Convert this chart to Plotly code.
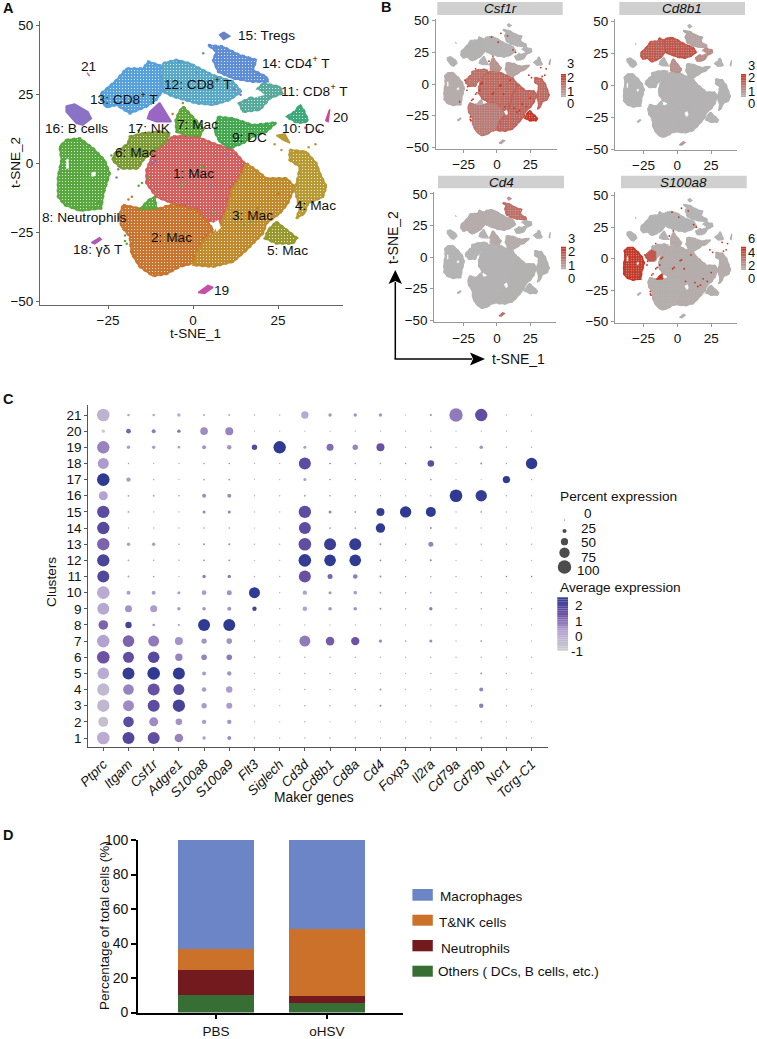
import plotly.graph_objects as go

FONT = "Liberation Sans"
W, H = 757, 1039

# ---------- Panel A / B : cluster outlines (t-SNE_1, t-SNE_2)
cluster_ids = list(range(1, 22))
outline_x = {
    1: [-5.9,0,5.9,11.8,15.2,13.7,10.8,9.8,7.8,3.9,1,-5.9,-10.8,-13.7,-13.7,-11.3,-8.8],
    2: [-20.6,-15.7,-9.8,-5.9,1,4.4,5.9,2.9,1,0,-3.9,-7.8,-11.8,-15.7,-18.1,-18.6,-21,-21.8],
    3: [15.7,18.6,21.6,27.5,29.9,27.9,25.5,21.6,20.6,15.7,11.8,5.9,0,1,2.9,6.4,8.3,10.3,11.3,13.9],
    4: [28.4,33.3,36.3,37.3,39.2,38.2,33.8,32.8,30.4,31.4,29.9,30.9,31.4,28.4],
    5: [24.5,27.5,30.6,29.4,24.5,21.1,22.1],
    6: [-23.7,-23,-19.1,-18.6,-14.7,-9.8,-6.9,-7.8,-11.3,-14.7,-16.2,-21.1],
    7: [-2.9,-1,1,3.1,2,-2,-4.9,-5.1,-4.1],
    8: [-37.3,-33.3,-29.4,-26,-24.5,-26.3,-27,-33.3,-37.7,-39.7,-39.7,-38.7,-39.2],
    9: [7.4,11.8,17.6,24.5,21.6,17.6,14.7,10.8,7.8,6.4,6.9],
    10: [31.4,32.5,33.8,32.8,30.4,27.5,29.9],
    11: [20.6,25.5,26.3,22.6,19.6,14.7,13.5,17.6,19.1],
    12: [-8.8,-4.9,-1,5.9,11.8,14.2,10.8,5.9,1,-5.9,-9.8,-8.8,-10],
    13: [-27,-22.5,-19.6,-14.7,-13.2,-9.8,-9.6,-8.8,-10.8,-13.7,-18.6,-22.5,-25.5,-27],
    14: [4.4,8.8,13.7,18.6,17.6,21.6,22.1,17.6,11.8,7.4,5.9,6.9],
    15: [9,10.8,9,7.8],
    16: [-37.3,-34.8,-30.9,-29.9,-32.4,-34.3,-37.3],
    17: [-9.8,-6.4,-10.8,-13.4,-12.7],
    18: [-29.9,-27.5,-27,-28.9],
    19: [1.5,4.4,5.9,3.4],
    20: [39,40.2,39.7],
    21: [-31.2,-30.4,-31],
}
outline_y = {
    1: [9.8,10.4,7.4,5,0.1,-4.7,-9.5,-15.6,-21.6,-20.4,-16.2,-14.4,-12,-7.1,-2.3,5,7.4],
    2: [-15,-16.2,-16.2,-14.6,-16.8,-21,-24,-27.7,-32.5,-36.1,-37.3,-40,-40.7,-37.3,-32.5,-26.4,-22.8,-19.2],
    3: [0.1,-2.3,-5.3,-5.3,-8.3,-14.4,-18,-21.6,-25.2,-31.3,-35.5,-37.3,-36.7,-32.5,-28.3,-24.6,-21.6,-15.6,-9.5,-4.7],
    4: [5,4.3,0.1,-3.5,-8.3,-12,-14.4,-18,-19.8,-16.2,-9.5,-4.7,-1.1,1.3],
    5: [-21,-24,-27,-28.9,-28.9,-27,-24],
    6: [1.3,3.7,7.4,9.8,11,11.6,11,8,5,1.3,-1.7,-1.7],
    7: [20.7,18.2,15.2,12.8,10,10.4,11.6,15.8,18.8],
    8: [8.6,9.2,5.6,1.3,-3.5,-10.7,-16.2,-17,-15,-12,-4.7,1.3,6.2],
    9: [17,16.4,14,14.9,11.6,9.8,7.4,5.6,8,11.6,15.2],
    10: [21.3,19.5,15.8,14.9,14.9,17,18.8],
    11: [29.1,27.9,25.5,23.7,19.5,18.8,21.9,24.3,27.3],
    12: [36.4,37.6,36.4,32.1,29.7,26.1,23.1,21.3,21.9,24.3,26.7,30.3,33.3],
    13: [25.5,30.3,34.5,34.5,37,35.7,31.5,26.7,23.1,20.7,18.2,21.3,20.4,23.1],
    14: [43,42.4,39.4,37.6,33.9,31.5,29.7,29.7,30.9,33.3,37.6,40.6],
    15: [47.7,46.2,45,46.7],
    16: [20.9,21.6,18.8,16.4,14,14.6,18.8],
    17: [22.1,15.2,15.2,16.4,18.8],
    18: [-28.6,-26.8,-27.4,-29.1],
    19: [-46.7,-44.1,-44.8,-47],
    20: [15.6,19.7,15.2],
    21: [33,31.8,32.7],
}
cluster_colors = {
    1:"#d1605e",2:"#c8752f",3:"#c08b2d",4:"#b79a33",5:"#97992f",6:"#7c9a35",7:"#5fa63a",
    8:"#59a83f",9:"#44a850",10:"#3fa87b",11:"#57aa9c",12:"#58a8c6",13:"#56a0dc",14:"#5f8ed6",
    15:"#6b82c8",16:"#8a72c5",17:"#9a66c4",18:"#b05ab0",19:"#c74fa8",20:"#d0459a",21:"#d85a7e",
}
# extra patch of neutrophil-coloured cells below cluster 6
patch8_x = [-13.2,-11.3,-10.6,-15.7]
patch8_y = [-13.2,-12,-16.2,-16.5]
# small satellite patch of cluster 4 colour
patch4_x = [24.5,27,28.5,26.5]
patch4_y = [10.2,10.8,7.5,8.5]
# part of cluster 6 that expresses S100a8
patch6_x = [-23.7,-23,-19,-16,-15.9,-17,-21]
patch6_y = [1.3,3.7,7,5.5,0,-2,-2]
# empty gaps inside the map
holes_x = [[-37.2,-36.7,-36.6,-37.2],[-29.8,-28.6,-28.8,-29.8],[6,7.4,8.1,7],[16,19,21,18],[5,9,10.5,7]]
holes_y = [[1.5,1.8,-1.6,-1.8],[-3.2,-3,-4.4,-4.6],[-21.5,-20.5,-23.2,-24.6],[25.5,26.8,25,24],[19.5,20,18.5,17.5]]
# scattered single cells
stray_x = [-2.5,2,3,-3.5,6,13,15,17,-18,-19,-22,-22.5,-13,-15,-16,-11,-12,19,22,25,34,36,-20,-19.5,
           -16,-20,-4,1,3,8,12,14,33,37,-28,-24,24,26,-3,-6,10,5]
stray_y = [-7,-1.5,-1,-8,-18,-19,-22,-21,-12,-13,-2,-5,-5,-7,-8,1,0,-16,-18,-11,6,7,-26,-29,
           12,-28,37,33,40,38,27,25,13,12,-14,3,7,5,22,18,3,-8]
stray_c = ["#59a83f"]*8 + ["#c8752f"]*2 + ["#8a72c5"]*2 + ["#59a83f"]*3 + ["#8a72c5"]*2 + ["#c8752f"]*3 + ["#b79a33"]*2 + \
          ["#59a83f"]*4 + ["#5f8ed6"]*4 + ["#9a66c4"]*2 + ["#d1605e"]*2 + ["#59a83f"]*2 + ["#b79a33"]*2 + ["#c8752f"]*2 + ["#8a72c5"]*2

labels_a = ["15: Tregs","14: CD4<sup>+</sup> T","21","12: CD8<sup>+</sup> T","11: CD8<sup>+</sup> T","13: CD8<sup>+</sup> T","20",
            "16: B cells","17: NK","7: Mac","10: DC","9: DC","6: Mac","1: Mac","3: Mac","4: Mac","8: Neutrophils",
            "2: Mac","18: γδ T","5: Mac","19"]
labels_x = [21.6,30.2,-30.6,1.5,35.8,-20.4,43.6,-34.3,-12.9,1.2,32.4,16.7,-16.9,0,17.5,36.1,-31.9,-6.2,-27.9,27.9,8.5]
labels_y = [46.6,37,35.1,29.1,26.7,23.7,16.8,12.8,12.8,14.3,12.8,9.5,4.1,-3.5,-18.8,-15.3,-19.4,-26.8,-31,-31.5,-45.8]

# ---------- Panel B : mean scaled expression of each gene in clusters 1..21
csf1r = [1.55,1.15,1.6,1.5,2.5,1.4,0.7,0.15,0.3,0.05,0.03,0.03,0.05,0.03,0,0.05,0,0,0.3,0.4,0.1]
cd8b1 = [0.03,0.03,0.03,0.02,0,0,0.7,0,0.05,0,0.8,1.9,1.8,0.3,0,0,0,0,0.6,0,0]
cd4 = [0.03,0.03,0.05,0.05,0.02,0,0.2,0,0.12,0,0.05,0.12,0.15,1.4,0.6,0,0,0,1.3,0,0]
s100a8 = [0.3,0.25,0.3,0.3,0.2,0.3,0.4,5.0,0.2,0,0.05,0.05,0.05,0,0,0,0,0,0.1,0.5,0]

# ---------- Panel C
genes = ["Ptprc","Itgam","Csf1r","Adgre1","S100a8","S100a9","Flt3","Siglech","Cd3d","Cd8b1","Cd8a","Cd4",
         "Foxp3","Il2ra","Cd79a","Cd79b","Ncr1","Tcrg-C1"]
clusters = list(range(1, 22))
pct_expr = [
 [93,88,88,61,19,24,3,2,4,4,3,3,3,3,3,5,3,3],
 [72,77,64,45,27,27,3,2,4,3,3,3,3,3,3,4,3,3],
 [91,80,88,91,35,40,3,2,5,4,3,8,3,3,3,27,3,3],
 [91,77,88,80,29,43,3,2,5,5,5,7,3,3,3,24,3,3],
 [85,88,93,88,24,27,3,3,4,3,3,3,3,3,3,6,3,3],
 [93,80,85,51,37,37,4,3,4,3,3,3,3,3,3,3,3,3],
 [93,85,80,56,35,37,4,3,80,61,59,19,5,16,3,6,3,3],
 [69,43,13,8,88,88,2,2,3,3,3,2,3,3,3,3,3,3],
 [88,48,48,19,21,24,27,4,29,21,21,7,4,19,3,4,3,3],
 [93,24,24,16,29,32,80,3,27,16,21,6,4,6,3,4,3,3],
 [88,7,6,3,19,19,3,3,88,32,29,7,3,4,3,3,4,4],
 [91,6,5,4,7,7,3,3,93,85,85,6,4,8,3,3,3,3],
 [91,19,19,5,8,9,3,3,93,88,88,7,4,32,3,4,4,4],
 [91,3,3,3,5,5,2,2,88,6,6,67,3,7,3,3,3,3],
 [91,7,3,3,16,16,3,3,91,16,7,56,83,72,3,6,4,3],
 [64,6,7,5,24,24,3,3,7,4,4,3,3,3,93,83,4,3],
 [93,27,5,3,6,7,2,2,16,4,4,3,3,5,2,2,51,3],
 [80,3,2,2,4,5,2,2,88,5,5,4,4,45,3,8,3,83],
 [91,19,19,11,24,27,35,91,16,48,35,56,3,8,3,21,3,3],
 [19,30,24,19,53,56,2,2,2,2,2,2,2,2,2,2,2,2],
 [93,13,13,19,8,8,5,5,51,19,19,19,2,10,99,91,3,3],
]
avg_expr = [
 [-0.1,1.6,1.3,0.5,0.2,0.4,0,0,0.1,0.1,0.1,0.1,0,0.1,0,0.2,0,0],
 [-0.7,1.4,0.4,0.3,0.2,0.3,0,0,0.1,0.1,0.1,0.1,0,0.1,0,0.2,0,0],
 [-0.4,0.4,1.4,1.8,0.2,0.2,0,0,0.2,0.2,0.2,0.5,0,0.1,0,0.6,0,0],
 [-0.5,0.5,1.2,1.5,0.2,0.2,0,0,0.2,0.2,0.2,0.4,0,0.1,0,0.5,0,0],
 [-0.1,2.1,2.2,2.2,0.2,0.3,0,0,0.2,0.2,0.2,0.1,0,0.1,0,0.5,0,0],
 [1.1,1.3,1.5,0.5,0.5,0.6,0.2,0,0.2,0.2,0.2,0.1,0.1,0.2,0,0.2,0,0],
 [0.1,0.9,0.6,0.3,0.3,0.3,0.3,0.1,0.6,1,1.1,0.4,0.3,0.4,0.2,0.4,0.1,0.1],
 [0.9,1.8,0.3,0.3,2.2,2.2,-0.2,-0.2,-0.3,-0.3,-0.3,-0.3,-0.3,-0.3,-0.2,-0.3,-0.2,-0.2],
 [0,0.3,0.2,0.2,0.3,0.3,1.8,0.1,0.1,0.3,0.3,0.4,0.2,0.6,0,0.3,0,0],
 [-0.1,0.2,0.2,0.2,0.2,0.3,2.3,0.1,0.1,0.3,0.2,0.3,0.2,0.2,0,0.3,0,0],
 [1.6,0.2,0.2,0.1,0.6,0.6,0.1,0.1,1.2,0.9,0.6,0.5,0.2,0.2,0.2,0.2,0.7,0.8],
 [1.7,0.2,0.2,0.1,0.4,0.4,0,0,2.1,2.2,2.2,0.5,0.2,0.5,0,0.1,0,0],
 [0.9,0.2,0.2,0.2,0.4,0.4,0,0,1.3,2,2.1,0.5,0.2,0.5,0,0.1,0,0],
 [1.5,0.1,0.1,0.1,0.3,0.3,0,0,1.4,0.3,0.3,2.2,0,0.5,0,0,0,0],
 [1.4,0.2,0.1,0.1,0.5,0.5,0,0,1.4,0.5,0.3,2.1,2.2,2.2,0,0.2,0,0],
 [0.1,0.2,0.2,0.3,0.4,0.4,0.1,0.1,0.2,0.5,0.4,0.2,0.1,0.2,2.2,2.1,0.2,0.1],
 [2.2,0.2,0.1,0.1,0.3,0.3,0.1,0.1,0.2,0.6,0.3,0.1,0.1,0.4,0.1,0,2.2,0.4],
 [0.2,0.3,0.2,0.2,0.4,0.5,0.1,0.1,1.4,0.8,0.3,0.3,0.4,1.4,0.1,0.4,0.3,2.2],
 [0.5,0.2,0.2,0.3,0.3,0.3,1.5,2.2,0.2,0.8,0.5,1.2,0.2,0.4,0.1,0.3,0.1,0.1],
 [-1,0.9,0.6,0.7,0.4,0.5,0,0,0,0,0,-0.3,0,0,0,0,0,0],
 [-0.3,0,0,0,0,0,0,0,0,0.3,0.3,0.3,0,0.3,0.6,1.3,0,0],
]
legend_pct = [0,25,50,75,100]
legend_avg = [2,1,0,-1]

# ---------- Panel D
samples = ["PBS","oHSV"]
others = [10,5.3]
neutrophils = [14.5,4.5]
tnk = [12.5,38.4]
macrophages = [63,51.8]

# ---------- helpers
def fx(p): return p/W
def fy(p): return 1-p/H

def mix(a, b, t):
    a = [int(a[i:i+2],16) for i in (1,3,5)]
    b = [int(b[i:i+2],16) for i in (1,3,5)]
    t = max(0,min(1,t))
    return "#%02x%02x%02x" % tuple(round(a[i]+(b[i]-a[i])*t) for i in range(3))

fig = go.Figure()
layout = {}
annotations = []
shapes = []

def text(x, y, s, size=13, xanchor="center", yanchor="middle", **kw):
    annotations.append(dict(x=fx(x), y=fy(y), xref="paper", yref="paper", text=s, showarrow=False,
                            xanchor=xanchor, yanchor=yanchor, font=dict(family=FONT,size=size,color="#111"),
                            borderpad=0, **kw))

def axis(n, letter, dom, rng, **kw):
    d = dict(domain=dom, range=rng, anchor=f"{'y' if letter=='x' else 'x'}{n}", showgrid=False, zeroline=False,
             showline=True, linewidth=1, linecolor="#666", ticks="outside", ticklen=3, tickwidth=1, tickcolor="#666",
             tickfont=dict(family=FONT,size=13,color="#111"), mirror=False, automargin=False)
    d.update(kw)
    layout[f"{letter}axis{n}"] = d

def panel_axes(n, l, r, t, b, xr, yr, size=13.5):
    axis(n,"x",[fx(l),fx(r)],xr,tickvals=[-25,0,25],tickfont=dict(family=FONT,size=size,color="#111"))
    axis(n,"y",[fy(b),fy(t)],yr,tickvals=[-50,-25,0,25,50],tickfont=dict(family=FONT,size=size,color="#111"))

def blob(xs, ys, color, xa, ya, bg=None, fg="#ffffff", size=3, solidity=0.1, lw=1.4, rag=0):
    kw = {}
    if bg is not None:
        kw["fillpattern"] = dict(shape=".", fgcolor=fg, bgcolor=bg, size=size, solidity=solidity, fillmode="replace")
    fig.add_trace(go.Scatter(x=xs+xs[:1], y=ys+ys[:1], mode="lines", fill="toself", fillcolor=color,
                             line=dict(color=color,width=lw), xaxis=xa, yaxis=ya,
                             hoverinfo="skip", showlegend=False, **kw))
    if rag:
        fig.add_trace(go.Scatter(x=xs+xs[:1], y=ys+ys[:1], mode="lines",
                                 line=dict(color=color,width=rag,dash="dot"), xaxis=xa, yaxis=ya,
                                 hoverinfo="skip", showlegend=False))

def draw_holes(xa, ya):
    for hx,hy in zip(holes_x,holes_y):
        fig.add_trace(go.Scatter(x=hx+hx[:1], y=hy+hy[:1], mode="lines", fill="toself", fillcolor="#ffffff",
                                 line=dict(color="#ffffff",width=0.5), xaxis=xa, yaxis=ya,
                                 hoverinfo="skip", showlegend=False))

# ---- Panel A
panel_axes(1,40,343,21,305,[-45,44.1],[-51.2,51.7],13.5)
for c in cluster_ids:
    col = cluster_colors[c]
    blob(outline_x[c], outline_y[c], col, "x1", "y1", bg=col if c<=14 else None,
         lw=1.6 if c<=17 else 1.5, rag=2.6 if c<=14 else 0)
blob(patch8_x, patch8_y, cluster_colors[8], "x1", "y1", bg=cluster_colors[8], rag=2)
blob(patch4_x, patch4_y, cluster_colors[4], "x1", "y1")
draw_holes("x1","y1")
fig.add_trace(go.Scatter(x=stray_x, y=stray_y, mode="markers", marker=dict(size=2.5,color=stray_c),
                         xaxis="x1", yaxis="y1", hoverinfo="skip", showlegend=False))
for s,x,y in zip(labels_a,labels_x,labels_y):
    annotations.append(dict(x=x,y=y,xref="x1",yref="y1",text=s,showarrow=False,
                            font=dict(family=FONT,size=13.7,color="#111")))
text(195.7,334,"t-SNE_1",13.5)
text(16,163,"t-SNE_2",13.5,textangle=-90)

# ---- Panel B
GRAY, RED = "#b4b4b4", "#c9301f"
panels_b = [
    ("Csf1r", csf1r, 3.0, 2, (435.7,556.7,19,149), ([-46,44.9],[-51.3,51.3]), (437.3,562.7,2,15),
     (561,566,74,97), 570.7, [("3",63),("2",77),("1",91),("0",104)]),
    ("Cd8b1", cd8b1, 3.0, 3, (615,736.7,19,149.7), ([-46.1,44],[-50.5,52]), (619.3,745,2,15),
     (741,746,74,97), 751, [("3",66),("2",78),("1",91),("0",104)]),
    ("Cd4", cd4, 3.0, 4, (434.3,556,191.7,322.3), ([-47,44.4],[-51.8,51.8]), (438,564,175.7,188.3),
     (561,566,246.7,269.3), 571.7, [("3",238),("2",251.7),("1",265.7),("0",278.3)]),
    ("S100a8", s100a8, 6.0, 5, (615,737,192,322.7), ([-46.1,44],[-50.8,52.9]), (621,746.7,175.7,188.3),
     (741,746,246.7,270), 751, [("6",239),("4",252.7),("2",266),("0",278.3)]),
]
for name, vals, vmax, n, (l,r,t,b), (xr,yr), (sl,sr,st,sb), (cl,cr,ct,cb), lx, tl in panels_b:
    panel_axes(n,l,r,t,b,xr,yr)
    for k in (f"xaxis{n}",f"yaxis{n}"):
        layout[k]["linecolor"]="#999"; layout[k]["tickcolor"]="#999"
    for c in cluster_ids:
        v = vals[c-1]
        col = mix(GRAY, RED, v/(vmax*0.85))
        if v >= 0.25:
            blob(outline_x[c], outline_y[c], col, f"x{n}", f"y{n}", bg=col, fg=GRAY, size=2.5, solidity=0.2, lw=1.1, rag=1.6 if c<=14 else 0)
        else:
            blob(outline_x[c], outline_y[c], col, f"x{n}", f"y{n}", lw=1.1, rag=1.6 if c<=14 else 0)
    blob(patch8_x, patch8_y, mix(GRAY,RED,vals[7]/(vmax*0.85)), f"x{n}", f"y{n}", lw=0.8)
    if name == "S100a8":
        blob(patch6_x, patch6_y, mix(GRAY,RED,0.7), f"x{n}", f"y{n}", lw=0.8)
    draw_holes(f"x{n}",f"y{n}")
    if name in ("S100a8","Csf1r"):
        fig.add_trace(go.Scatter(x=stray_x, y=stray_y, mode="markers", marker=dict(size=1.8,color="#c9301f"),
                                 xaxis=f"x{n}", yaxis=f"y{n}", hoverinfo="skip", showlegend=False))
    shapes.append(dict(type="rect",xref="paper",yref="paper",x0=fx(sl),x1=fx(sr),y0=fy(sb),y1=fy(st),
                       fillcolor="#d0d0d0",line=dict(width=0),layer="below"))
    text((sl+sr)/2,(st+sb)/2+0.5,f"<i>{name}</i>",13.5)
    steps = 14
    for i in range(steps):
        y0 = cb-(cb-ct)*i/steps; y1 = cb-(cb-ct)*(i+1)/steps
        shapes.append(dict(type="rect",xref="paper",yref="paper",x0=fx(cl),x1=fx(cr),y0=fy(y0),y1=fy(y1),
                           fillcolor=mix(GRAY,RED,(i+0.5)/steps),line=dict(width=0)))
    for s,y in tl:
        text(lx,y,s,13)

# t-SNE arrows
shapes.append(dict(type="line",xref="paper",yref="paper",x0=fx(395.3),x1=fx(395.3),y0=fy(359),y1=fy(282),line=dict(color="#000",width=1.5)))
shapes.append(dict(type="line",xref="paper",yref="paper",x0=fx(394.5),x1=fx(472),y0=fy(359),y1=fy(359),line=dict(color="#000",width=1.5)))
shapes.append(dict(type="path",xref="paper",yref="paper",fillcolor="#000",line=dict(width=0),
                   path=f"M {fx(395.3)} {fy(270)} L {fx(402)} {fy(284)} L {fx(395.3)} {fy(281)} L {fx(388.5)} {fy(284)} Z"))
shapes.append(dict(type="path",xref="paper",yref="paper",fillcolor="#000",line=dict(width=0),
                   path=f"M {fx(485)} {fy(359)} L {fx(470)} {fy(352.5)} L {fx(473)} {fy(359)} L {fx(470)} {fy(365.5)} Z"))
text(393,237,"t-SNE_2",14,textangle=-90)
text(491,359,"t-SNE_1",14,xanchor="left")

# ---- Panel C
n = 6
axis(n,"x",[fx(88.3),fx(548)],[-0.595,17.65],tickmode="array",tickvals=list(range(18)),
     ticktext=[f"<i>{g}</i>" for g in genes],tickangle=-45,linecolor="#555",tickcolor="#555",
     tickfont=dict(family=FONT,size=13.5,color="#111"))
axis(n,"y",[fy(747),fy(405)],[0.443,21.62],tickmode="array",tickvals=clusters,ticktext=[str(c) for c in clusters],
     linecolor="#555",tickcolor="#555",tickfont=dict(family=FONT,size=13.5,color="#111"))
def dia(p): return 1+0.125*p
CS = [[0,"#cbcbcb"],[0.33,"#b6a6d3"],[0.66,"#6d52a3"],[1,"#2f3a92"]]
dx, dy, ds, dc = [], [], [], []
for ri,c in enumerate(clusters):
    for gi,g in enumerate(genes):
        dx.append(gi); dy.append(c); ds.append(dia(pct_expr[ri][gi])); dc.append(avg_expr[ri][gi])
fig.add_trace(go.Scatter(x=dx,y=dy,mode="markers",xaxis="x6",yaxis="y6",hoverinfo="skip",showlegend=False,
    marker=dict(size=ds,color=dc,colorscale=CS,cmin=-1,cmax=2.2,line=dict(width=0),opacity=1)))
text(314,797,"Maker genes",13.8)
text(51,582,"Clusters",13.7,textangle=-90)
text(559,496,"Percent expression",13.7,xanchor="left")
text(559,587,"Average expression",13.7,xanchor="left")

# page-level axis for legend glyphs (pixel coordinates of the page)
layout["xaxis8"] = dict(domain=[0,1],range=[0,W],visible=False,showticklabels=False,anchor="y8",fixedrange=True)
layout["yaxis8"] = dict(domain=[0,1],range=[H,0],visible=False,showticklabels=False,anchor="x8",fixedrange=True)
legend_dot_y = [520,531,541.7,552.7,567]
legend_lab_y = [513,528,542,557,570]
fig.add_trace(go.Scatter(x=[564.5]*5,y=legend_dot_y,mode="markers",xaxis="x8",yaxis="y8",hoverinfo="skip",showlegend=False,
    marker=dict(size=[dia(p) for p in legend_pct],color="#000",line=dict(width=0))))
for p,y in zip(legend_pct,legend_lab_y):
    text(588,y,str(p),13.5)
steps = 24
stops = [(0,"#cbcbcb"),(0.33,"#b6a6d3"),(0.66,"#6d52a3"),(1,"#2f3a92")]
for i in range(steps):
    t = i/steps
    y0 = 650.7-(650.7-597.3)*t; y1 = 650.7-(650.7-597.3)*(i+1)/steps
    col = None
    for (a,ca),(b2,cb2) in zip(stops,stops[1:]):
        if a<=t<=b2:
            col = mix(ca,cb2,(t-a)/(b2-a)); break
    shapes.append(dict(type="rect",xref="paper",yref="paper",x0=fx(557.3),x1=fx(568),y0=fy(y0),y1=fy(y1),fillcolor=col,line=dict(width=0)))
for v,y in zip(legend_avg,[605,621,636,651]):
    text(584,y,str(v),13.5,xanchor="right")

# ---- Panel D
n = 7
axis(n,"x",[fx(138),fx(403)],[-0.703,1.685],type="linear",tickmode="array",tickvals=[0,1],ticktext=samples,linecolor="#000",
     linewidth=1.6,tickcolor="#000",tickwidth=1.5,ticklen=5,tickfont=dict(family=FONT,size=13.5,color="#111"))
axis(n,"y",[fy(1012.5),fy(840)],[0,100],tickmode="array",tickvals=[0,20,40,60,80,100],linecolor="#000",linewidth=1.6,
     tickcolor="#000",tickwidth=1.5,ticklen=5,tickfont=dict(family=FONT,size=14,color="#111"))
for vals,col in [(others,"#376e34"),(neutrophils,"#731a1e"),(tnk,"#cb7129"),(macrophages,"#6b85c6")]:
    fig.add_trace(go.Bar(x=[0,1],y=vals,marker=dict(color=col,line=dict(width=0)),width=0.685,xaxis="x7",yaxis="y7",
                         hoverinfo="skip",showlegend=False))
text(104,926,"Percentage of total cells (%)",13.5,textangle=-90)
legend_d = [("Macrophages","#6b85c6",889,900.7,439,896.7),("T&amp;NK cells","#cb7129",914.7,925.7,438,922),
            ("Neutrophils","#731a1e",940,951.3,440,948),("Others ( DCs, B cells, etc.)","#376e34",965.7,976.7,436.5,971.7)]
for s,col,t,b,x,y in legend_d:
    shapes.append(dict(type="rect",xref="paper",yref="paper",x0=fx(412.4),x1=fx(432.8),y0=fy(b),y1=fy(t),fillcolor=col,line=dict(width=0)))
    text(x,y,s,13.6,xanchor="left")

# panel letters
for s,x,y in [("A",2,8),("B",380,7),("C",2,399),("D",2,835)]:
    text(x,y,f"<b>{s}</b>",14.5,xanchor="left")

fig.update_layout(width=W,height=H,margin=dict(l=0,r=0,t=0,b=0,autoexpand=False),paper_bgcolor="white",plot_bgcolor="rgba(0,0,0,0)",
                  barmode="stack",annotations=annotations,shapes=shapes,showlegend=False,
                  font=dict(family=FONT,color="#111"),**layout)
fig.write_html("out.html",config=dict(displayModeBar=False),
               post_script="document.body.style.margin='0';document.body.style.overflow='hidden';window.dispatchEvent(new Event('resize'));")
